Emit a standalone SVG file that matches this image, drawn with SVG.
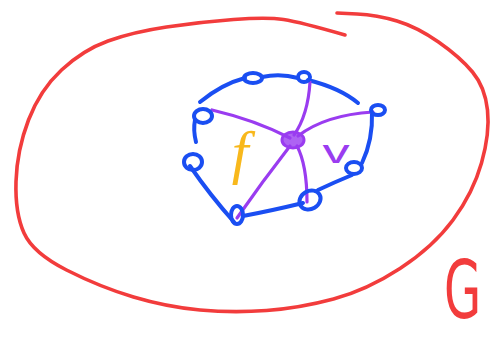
<svg xmlns="http://www.w3.org/2000/svg" width="493" height="338" viewBox="0 0 493 338">
<style>
.red{fill:none;stroke:#f23c3c;stroke-width:3.6;stroke-linecap:round;stroke-linejoin:round}
.blue{fill:none;stroke:#1a4ef2;stroke-width:4;stroke-linecap:round;stroke-linejoin:round}
.pur{fill:none;stroke:#9a3cf0;stroke-width:3.2;stroke-linecap:round;stroke-linejoin:round}
.lbl{font-family:"Liberation Serif",serif}
</style>
<rect width="493" height="338" fill="#ffffff"/>
<g id="region">
<path class="red" d="M345,35 Q300,22 283.5,19.5 Q267,17 233.5,19.5 Q200,22 166.5,27 Q133,32 108,41 Q83,50 61.5,70 Q40,90 28.5,120 Q17,150 16,181.5 Q15,213 24,233 Q33,253 66.5,270 Q100,287 133.5,297 Q167,307 200,310 Q233,313 266.5,310.5 Q300,308 333.5,299 Q367,290 400,268.5 Q433,247 453,220 Q473,193 481.5,163 Q490,133 487.5,110 Q485,87 472.5,72 Q460,57 438.5,42 Q417,27 397,21 Q377,15 357,14 L337,13"/>
</g>
<g id="connectors">
<path class="blue" d="M200,102 Q222,84 245,78"/>
<path class="blue" d="M262,77 Q280,73 298,78"/>
<path class="blue" d="M308,80 Q340,88 358,103"/>
<path class="blue" d="M372,112 Q373,140 362,163"/>
<path class="blue" d="M352,175 Q335,182 318,190"/>
<path class="blue" d="M303,203 Q270,211 243,216"/>
<path class="blue" d="M234,222 Q210,195 190,166"/>
<path class="blue" d="M196,142 Q193,130 195,120"/>
<path class="pur" d="M212,110 Q255,120 290,138"/>
<path class="pur" d="M310,82 Q308,115 294,135"/>
<path class="pur" d="M373,112 Q325,115 298,136"/>
<path class="pur" d="M297,146 Q307,165 307,202"/>
<path class="pur" d="M290,146 Q262,182 237,218"/>
</g>
<g id="v1"><ellipse class="blue" cx="253" cy="78" rx="9" ry="5"/></g>
<g id="v2"><ellipse class="blue" cx="304" cy="77" rx="6" ry="5"/></g>
<g id="v3"><ellipse class="blue" cx="378" cy="110" rx="7" ry="5"/></g>
<g id="v4"><ellipse class="blue" cx="354" cy="168" rx="8" ry="6"/></g>
<g id="v5"><ellipse class="blue" cx="310" cy="200" rx="11" ry="9" transform="rotate(-30 310 200)"/></g>
<g id="v6"><ellipse class="blue" cx="237" cy="215" rx="6" ry="9"/></g>
<g id="v7"><ellipse class="blue" cx="193" cy="162" rx="9" ry="8"/></g>
<g id="v8"><ellipse class="blue" cx="203" cy="116" rx="9" ry="7"/></g>
<g id="hub"><ellipse cx="293" cy="140" rx="11" ry="8" fill="#9a3cf0" fill-opacity="0.8" stroke="#9a3cf0" stroke-width="3"/></g>
<g id="labels">
<text class="lbl" x="240" y="172" font-size="60" font-style="italic" fill="#f8b81c" text-anchor="middle">f</text>
<text transform="translate(336,163) scale(1.6,1)" x="0" y="0" font-family="Liberation Sans, sans-serif" font-size="34" fill="#9a3cf0" text-anchor="middle">v</text>
<text transform="translate(444,318) scale(0.6,1)" x="0" y="0" font-family="DejaVu Sans, sans-serif" font-size="80" fill="#f23c3c">G</text>
</g>
</svg>
